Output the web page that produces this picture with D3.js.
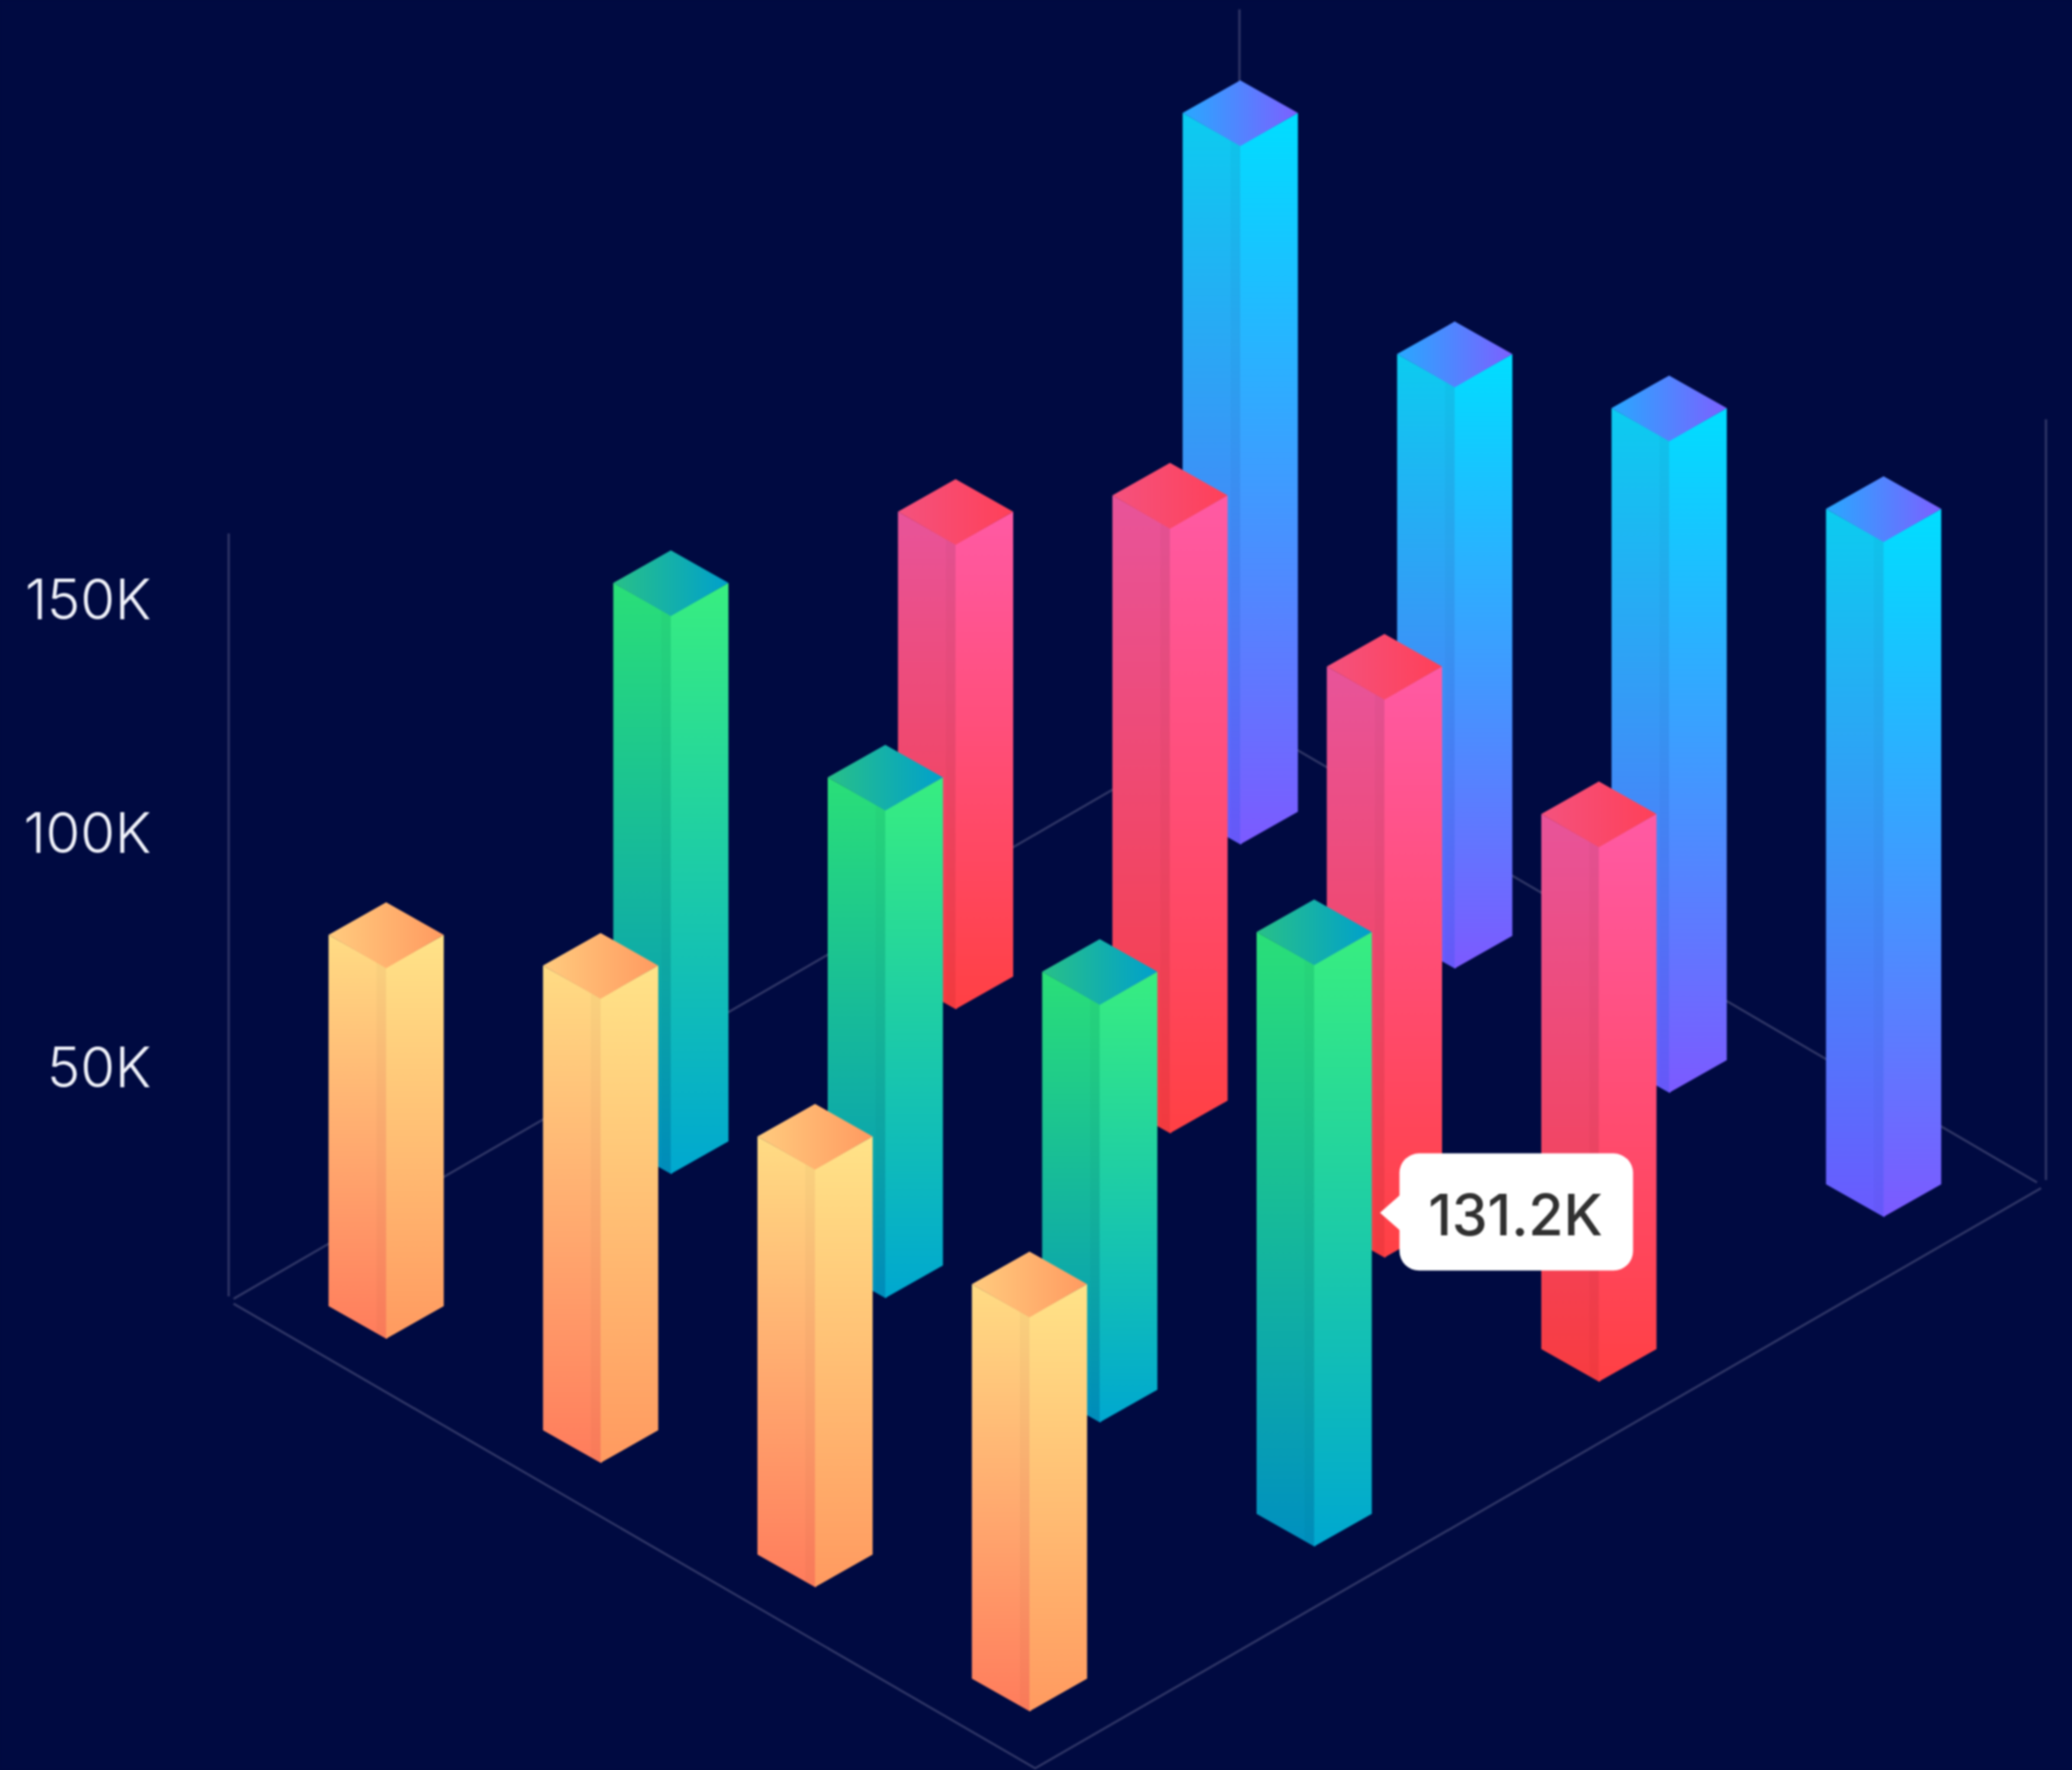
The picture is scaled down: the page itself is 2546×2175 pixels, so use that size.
<!DOCTYPE html>
<html>
<head>
<meta charset="utf-8">
<script src="https://cdn.jsdelivr.net/npm/d3@7"></script>
<style>
html,body{margin:0;padding:0;background:#000a41;overflow:hidden}
svg{display:block;filter:blur(0.8px)}
</style>
</head>
<body>
<script>
// ---- data ----
const columns = [0, 1, 2, 3];
const rows = ["yellow", "green", "pink", "blue"];
const blueValues = [150000, 125000, 140000, 145000];
const pinkValues = [100000, 130000, 120000, 115000];
const greenValues = [120000, 105000, 90000, 125000];
const yellowValues = [80000, 100000, 90000, 85000];
const axisTicks = [50000, 100000, 150000];
const tooltipValue = 131200;

// ---- palettes: [top, bottom] for each face, [left, right] for the cap ----
const palettes = {
  yellow: {left:["#ffdc84","#ff7c5c"], right:["#ffe388","#ff9a60"], cap:["#ffcb7e","#ff9a60"]},
  green:  {left:["#2adf78","#0090c0"], right:["#38ee80","#00a8d0"], cap:["#28c088","#00a0cc"]},
  pink:   {left:["#e8549a","#f83c40"], right:["#ff5aa4","#ff4044"], cap:["#f4527e","#ff4058"]},
  blue:   {left:["#0cccf0","#6a5aff"], right:["#00deff","#7c5aff"], cap:["#28a8ff","#7c60ff"]}
};
const seriesValues = {yellow: yellowValues, green: greenValues, pink: pinkValues, blue: blueValues};

const W = 2546, H = 2175;
const svg = d3.select("body").append("svg").attr("width", W).attr("height", H);
svg.append("rect").attr("width", W).attr("height", H).attr("fill", "#000a41");

// ---- isometric scales ----
const colX = d3.scaleLinear().domain([0, 3]).range([0, 790.5]);
const colY = d3.scaleLinear().domain([0, 3]).range([0, 457.8]);
const rowX = d3.scaleLinear().domain([0, 3]).range([0, 1049.5]);
const rowY = d3.scaleLinear().domain([0, 3]).range([0, -607.5]);
const valueH = d3.scaleLinear().domain([0, 50000]).range([0, 287.6]);
const originX = 474.5, originY = 1645;
const halfW = 70.8, halfH = 40, capInset = 4;

function project(c, r) { return [originX + colX(c) + rowX(r), originY + colY(c) + rowY(r)]; }

// ---- frame ----
const lineColor = "#2f3666";
const frame = svg.append("g").attr("fill", "none").attr("stroke", lineColor).attr("stroke-width", 2.8);
const corners = {left:[287,1602], bottom:[1272,2173], right:[2508,1460], backLeft:[287,1596], apex:[1523,880], backRight:[2503,1453]};
const line = d3.line();
frame.append("path").attr("d", line([corners.left, corners.bottom, corners.right]));
frame.append("path").attr("d", line([corners.backLeft, corners.apex, corners.backRight]));
// walls, heights
const wall = (x, yBase, v) => frame.append("line").attr("x1", x).attr("x2", x).attr("y1", yBase).attr("y2", yBase - valueH(v));
wall(281, 1593, 163000);
wall(1523, 880, 151000);
wall(2514, 1450, 162500);

// ---- y axis ----
const axisScale = d3.scaleLinear().domain([0, 150000]).range([1601, 1601 - 863]);
const axis = d3.axisLeft(axisScale).tickValues(axisTicks).tickSize(0).tickPadding(0)
  .tickFormat(d => (d / 1000) + "K");
const axisG = svg.append("g").attr("transform", "translate(186,0)").call(axis);
axisG.select(".domain").remove();
axisG.selectAll("text").attr("fill", "#f0f2fa").attr("font-family", "Inter, sans-serif")
  .attr("font-weight", 300).attr("font-size", 69);

// ---- gradients ----
const defs = svg.append("defs");
function grad(id, stops, x2, y2) {
  const g = defs.append("linearGradient").attr("id", id)
    .attr("x1", 0).attr("y1", 0).attr("x2", x2).attr("y2", y2);
  g.append("stop").attr("offset", "0%").attr("stop-color", stops[0]);
  g.append("stop").attr("offset", "100%").attr("stop-color", stops[1]);
}
rows.forEach(s => {
  grad("l-" + s, palettes[s].left, 0, 1);
  grad("r-" + s, palettes[s].right, 0, 1);
  grad("c-" + s, palettes[s].cap, 1, 0);
});

// ---- bars (back row first) ----
const barData = [];
[...rows].reverse().forEach(s => {
  const r = rows.indexOf(s);
  columns.forEach(c => barData.push({s, r, c, v: seriesValues[s][c]}));
});

const bars = svg.selectAll("g.bar").data(barData).join("g").attr("class", "bar");
bars.each(function (d) {
  const g = d3.select(this);
  const [x, y] = project(d.c, d.r);
  const h = valueH(d.v) - capInset;
  const close = p => line(p) + "Z";
  g.append("path").attr("fill", `url(#l-${d.s})`)
    .attr("d", close([[x - halfW, y - halfH], [x, y], [x + 1.5, y], [x + 1.5, y - h], [x, y - h], [x - halfW, y - h - halfH]]));
  g.append("path").attr("fill", "#000").attr("opacity", 0.025)
    .attr("d", close([[x - 12, y - 7], [x, y], [x, y - h], [x - 12, y - h - 7]]));
  g.append("path").attr("fill", `url(#r-${d.s})`)
    .attr("d", close([[x + halfW, y - halfH], [x, y], [x, y - h], [x + halfW, y - h - halfH]]));
  g.append("path").attr("fill", `url(#c-${d.s})`)
    .attr("d", close([[x, y - h + 0.8], [x + halfW, y - h - halfH], [x, y - h - 2 * halfH], [x - halfW, y - h - halfH]]));
});

// ---- tooltip ----
const [tipBaseX, tipBaseY] = project(3, 1);
const tipX = tipBaseX + halfW + 10, tipY = tipBaseY - 410;
const tip = svg.append("g").attr("transform", `translate(${tipX},${tipY})`);
const bw = 287, bh = 144, bx = 24, rad = 24;
tip.append("rect").attr("x", bx).attr("y", -73).attr("width", bw).attr("height", bh).attr("rx", rad).attr("fill", "#fff");
tip.append("path").attr("fill", "#fff").attr("d", line([[0, 0], [bx + 1, -22], [bx + 1, 22]]) + "Z");
tip.append("text").text(d3.format(".1f")(tooltipValue / 1000) + "K")
  .attr("x", bx + bw / 2 - 1).attr("y", 28).attr("text-anchor", "middle")
  .attr("font-family", "Inter, sans-serif").attr("font-size", 70).attr("font-weight", 500).attr("fill", "#303030");
</script>
</body>
</html>
